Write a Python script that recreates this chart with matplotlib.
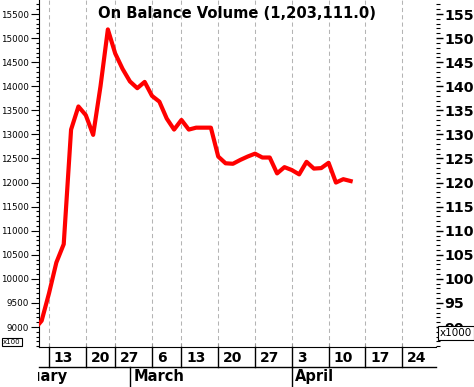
import numpy as np
import pandas as pd
import matplotlib
matplotlib.use('Agg')
from matplotlib import pyplot as plt
from matplotlib import transforms as mtransforms
from matplotlib.ticker import MultipleLocator

# trading calendar used by the chart (days with no slot on the axis)
no_trade_days = ['2006-02-20', '2006-03-10']
cal_start, cal_end = '2006-02-01', '2006-04-28'

# On Balance Volume, x100, one value per trading day from obv_start
obv_start = '2006-02-09'
obv = [8950, 9130, 9700, 10340, 10720, 13100, 13580, 13400, 12990, 14000,
       15180, 14680, 14360, 14100, 13960, 14090, 13800, 13680, 13330, 13100,
       13300, 13100, 13140, 13140, 13140, 12540, 12400, 12390, 12470, 12540,
       12600, 12520, 12520, 12190, 12320, 12260, 12170, 12430, 12290, 12300,
       12410, 12000, 12070, 12031]

week_starts = ['2006-02-13', '2006-02-20', '2006-02-27', '2006-03-06', '2006-03-13',
               '2006-03-20', '2006-03-27', '2006-04-03', '2006-04-10', '2006-04-17',
               '2006-04-24']
month_starts = ['2006-02-01', '2006-03-01', '2006-04-01']
month_names = ['February', 'March', 'April']

title = 'On Balance Volume (1,203,111.0)'

W, H = 474, 387
fig = plt.figure(figsize=(W / 100, H / 100), dpi=100)
ax = fig.add_axes([39 / W, 40 / H, 397 / W, 347 / H])

days = pd.bdate_range(cal_start, cal_end, freq='C', holidays=no_trade_days)
x0 = days.searchsorted(pd.Timestamp(obv_start))
x = x0 + np.arange(len(obv))
week_x = days.searchsorted(pd.to_datetime(week_starts))
month_x = days.searchsorted(pd.to_datetime(month_starts))

first_week = week_x[0]
ax.set_xlim(first_week - 1.36, first_week + 52.6)
ylo, yhi = 8585, 15791
ax.set_ylim(ylo, yhi)

ax.plot(x, obv, color='#ff0000', lw=3, zorder=3)

# x axis: dashed weekly grid, labels drawn in boxes below
ax.set_xticks(week_x)
ax.grid(axis='x', color='#b4b4b4', ls=(0, (4, 3)), lw=0.75)
ax.tick_params(axis='x', direction='in', length=3, color='#999999', labelbottom=False)

ax.yaxis.set_major_locator(MultipleLocator(500))
ax.yaxis.set_minor_locator(MultipleLocator(100))
ax.tick_params(axis='y', which='major', length=6, width=0.8, labelsize=6.3, pad=1)
ax.tick_params(axis='y', which='minor', length=2.5, width=0.8)
for s in ['top', 'right']:
    ax.spines[s].set_visible(False)

ax2 = ax.twinx()
ax2.set_ylim(ylo / 100, yhi / 100)
for s in ax2.spines.values():
    s.set_visible(False)
rticks = np.arange(90, 160, 5)
ax2.set_yticks(rticks)
ax2.set_yticklabels([str(t) for t in rticks], fontweight='bold')
ax2.yaxis.set_minor_locator(MultipleLocator(1))
ax2.tick_params(axis='y', which='major', length=5, width=1, labelsize=10.2, pad=1)
ax2.tick_params(axis='y', which='minor', length=3, width=0.8)

ax.text(0.5, 1 - 13 / 347, title, transform=ax.transAxes, ha='center', va='center',
        fontsize=10.6, fontweight='bold')

# date boxes under the plot
tr = mtransforms.blended_transform_factory(ax.transData, fig.transFigure)
xl, xr = ax.get_xlim()
ax.plot([xl, xr], [20 / H, 20 / H], transform=tr, clip_on=False, color='k', lw=1)
for p, d in zip(week_x, week_starts):
    ax.plot([p, p], [20 / H, 40 / H], transform=tr, clip_on=False, color='k', lw=1)
    ax.annotate(str(pd.Timestamp(d).day), xy=(p, 29.5 / H), xycoords=tr,
                xytext=(3.5, 0), textcoords='offset points', ha='left', va='center',
                fontsize=10, fontweight='bold', annotation_clip=False)

clip = mtransforms.TransformedBbox(mtransforms.Bbox.from_extents(38 / W, 0, 436 / W, 1),
                                   fig.transFigure)
for p, name in zip(month_x, month_names):
    if p >= xl:
        ax.plot([p, p], [0, 20 / H], transform=tr, clip_on=False, color='k', lw=1)
    t = ax.annotate(name, xy=(p, 10.5 / H), xycoords=tr, xytext=(2.5, 0),
                    textcoords='offset points', ha='left', va='center',
                    fontsize=10.5, fontweight='bold', annotation_clip=False)
    t.set_clip_box(clip)
    t.set_clip_on(True)

fig.text(3 / W, (H - 342) / H, 'x100', fontsize=5, ha='left', va='center',
         bbox=dict(boxstyle='square,pad=0.15', fc='white', ec='black', lw=0.8))
fig.text(440 / W, (H - 333) / H, 'x1000', fontsize=7.5, ha='left', va='center', zorder=10,
         bbox=dict(boxstyle='square,pad=0.15', fc='white', ec='black', lw=0.8))

fig.savefig('out.png', dpi=100)
